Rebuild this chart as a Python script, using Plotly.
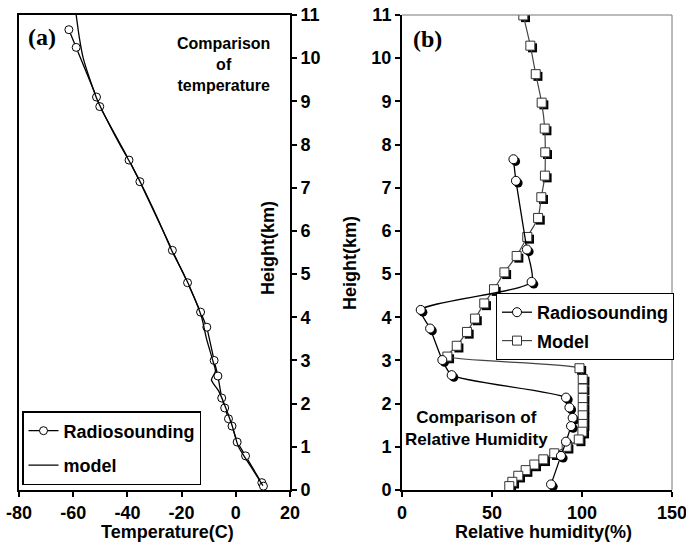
import plotly.graph_objects as go

# ---------------- Panel (a): temperature ----------------
sonde_T = [-61.6, -58.9, -51.4, -50.2, -39.4, -35.4, -23.4, -17.8, -13.0, -10.7, -8.0, -6.6,
           -5.2, -4.1, -2.7, -1.4, 0.5, 3.6, 9.6, 10.2]
sonde_T_h = [10.66, 10.25, 9.10, 8.88, 7.64, 7.14, 5.55, 4.80, 4.12, 3.77, 3.00, 2.64,
             2.13, 1.90, 1.65, 1.48, 1.11, 0.79, 0.17, 0.09]

model_T = [-58.9, -57.8, -56.3, -53.8, -50.9, -47.0, -42.8, -38.3, -34.2, -30.4, -26.8, -23.3,
           -19.2, -15.6, -12.6, -10.8, -8.5, -7.5, -9.0, -6.4, -4.3, -1.4, 1.0, 6.0, 10.0]
model_T_h = [11.0, 10.5, 10.0, 9.5, 9.0, 8.5, 8.0, 7.5, 7.0, 6.5, 6.0, 5.5,
             5.0, 4.5, 4.0, 3.5, 3.0, 2.75, 2.55, 2.3, 2.0, 1.5, 1.0, 0.5, 0.1]

temp_ticks = [-80, -60, -40, -20, 0, 20]
temp_tick_labels = ["-80", "-60", "-40", "-20", "0", "20"]
height_ticks = list(range(0, 12))
height_tick_labels = [str(v) for v in height_ticks]

# ---------------- Panel (b): relative humidity ----------------
sonde_RH = [61.9, 63.3, 69.4, 72.0, 10.4, 15.6, 22.4, 27.6, 91.1, 93.0, 94.8, 93.9, 91.1, 88.3, 82.8]
sonde_RH_h = [7.66, 7.16, 5.57, 4.82, 4.17, 3.74, 3.01, 2.66, 2.14, 1.91, 1.67, 1.48, 1.12, 0.79, 0.13]

model_RH = [67.4, 71.3, 74.3, 77.6, 79.3, 79.6, 79.4, 77.4, 75.6, 69.6, 63.7, 56.9, 51.1, 45.7,
            40.6, 36.1, 30.4, 25.2, 98.6, 100.4, 100.4, 100.4, 100.4, 100.4, 100.4, 100.2, 98.2,
            91.5, 84.6, 78.5, 73.5, 68.7, 64.6, 61.3, 59.6]
model_RH_h = [10.99, 10.29, 9.63, 8.97, 8.37, 7.82, 7.28, 6.78, 6.30, 5.86, 5.42, 5.04, 4.65, 4.32,
              3.97, 3.66, 3.34, 3.09, 2.82, 2.57, 2.35, 2.13, 1.92, 1.73, 1.53, 1.35, 1.17,
              1.00, 0.85, 0.71, 0.59, 0.46, 0.33, 0.19, 0.09]

rh_ticks = [0, 50, 100, 150]
rh_tick_labels = ["0", "50", "100", "150"]

FONT = "Liberation Sans, Arial, sans-serif"
W, H = 686, 546

fig = go.Figure()

# Panel a traces
fig.add_trace(go.Scatter(
    x=sonde_T, y=sonde_T_h, mode="lines+markers", name="Radiosounding",
    line=dict(color="black", width=1.3),
    marker=dict(symbol="circle", size=8, color="white", line=dict(color="black", width=1)),
    xaxis="x", yaxis="y", legend="legend", legendgroup="a1"))
fig.add_trace(go.Scatter(
    x=model_T, y=model_T_h, mode="lines", name="model",
    line=dict(color="black", width=1.3, shape="spline", smoothing=0.6),
    xaxis="x", yaxis="y", legend="legend", legendgroup="a2"))

# Panel b shadows (base axes x2/y2, shifted range)
fig.add_trace(go.Scatter(
    x=model_RH, y=model_RH_h, mode="markers", showlegend=False, hoverinfo="skip",
    marker=dict(symbol="square", size=9, color="black", line=dict(width=0)),
    xaxis="x2", yaxis="y2"))
fig.add_trace(go.Scatter(
    x=sonde_RH, y=sonde_RH_h, mode="markers", showlegend=False, hoverinfo="skip",
    marker=dict(symbol="circle", size=9, color="black", line=dict(width=0)),
    xaxis="x2", yaxis="y2"))

# Panel b main traces (overlay axes x3/y3)
fig.add_trace(go.Scatter(
    x=model_RH, y=model_RH_h, mode="lines+markers", name="Model",
    line=dict(color="#444444", width=1.2, shape="spline", smoothing=0.5),
    marker=dict(symbol="square", size=9, color="white", line=dict(color="#333333", width=1)),
    xaxis="x3", yaxis="y3", legend="legend2", legendgroup="b2"))
fig.add_trace(go.Scatter(
    x=sonde_RH, y=sonde_RH_h, mode="lines+markers", name="Radiosounding",
    line=dict(color="black", width=1.3, shape="spline", smoothing=0.6),
    marker=dict(symbol="circle", size=9, color="white", line=dict(color="black", width=1)),
    xaxis="x3", yaxis="y3", legend="legend2", legendgroup="b1", legendrank=1))

# geometry (pixel positions of plot areas)
ax_a = [19 / W, 290 / W]
ax_b = [402 / W, 672 / W]
ydom = [(H - 490) / H, (H - 15) / H]

dx = 2.2 / 1.8     # shadow offset in data units (x)
dy = 2.2 / 43.2    # shadow offset in data units (y)

def bold(labels):
    return ["<b>%s</b>" % t for t in labels]

axis_common = dict(showgrid=False, zeroline=False, ticks="outside", ticklen=5, tickwidth=2,
                   tickcolor="black", linecolor="black", linewidth=2, showline=True,
                   automargin=False, ticklabeloverflow="allow",
                   tickfont=dict(size=18, family=FONT, color="black"))

fig.update_layout(
    width=W, height=H, margin=dict(l=0, r=0, t=0, b=0, autoexpand=False),
    paper_bgcolor="white", plot_bgcolor="white",
    font=dict(family=FONT, color="black"),
    xaxis=dict(domain=ax_a, range=[-80, 20], tickvals=temp_ticks, ticktext=bold(temp_tick_labels),
               anchor="y", mirror=True, **axis_common),
    yaxis=dict(domain=ydom, range=[0, 11], tickvals=height_ticks, ticktext=bold(height_tick_labels),
               side="right", anchor="x", mirror=True, **axis_common),
    xaxis2=dict(domain=ax_b, range=[0 - dx, 150 - dx], visible=False, anchor="y2", automargin=False),
    yaxis2=dict(domain=ydom, range=[0 + dy, 11 + dy], visible=False, anchor="x2", automargin=False),
    xaxis3=dict(overlaying="x2", range=[0, 150], tickvals=rh_ticks, ticktext=bold(rh_tick_labels),
                anchor="y3", **axis_common),
    yaxis3=dict(overlaying="y2", range=[0, 11], tickvals=height_ticks, ticktext=bold(height_tick_labels),
                anchor="x3", side="left", **axis_common),
    legend=dict(x=22 / W, y=(H - 411) / H, xanchor="left", yanchor="top",
                bordercolor="black", borderwidth=1.5, bgcolor="white",
                font=dict(size=18, family=FONT, color="black", weight="bold"),
                tracegroupgap=8, itemwidth=30),
    legend2=dict(x=496 / W, y=(H - 293) / H, xanchor="left", yanchor="top",
                 bordercolor="black", borderwidth=1, bgcolor="white",
                 font=dict(size=18, family=FONT, color="black", weight="bold"),
                 tracegroupgap=2, itemwidth=30),
    showlegend=True,
)

# panel b top/right frame (thin grey)
fig.add_shape(type="line", xref="paper", yref="paper", x0=ax_b[0], x1=ax_b[1], y0=ydom[1], y1=ydom[1],
              line=dict(color="#777777", width=1))
fig.add_shape(type="line", xref="paper", yref="paper", x0=ax_b[1], x1=ax_b[1], y0=ydom[0], y1=ydom[1],
              line=dict(color="#777777", width=1))

def ann(text, x, y, size, rot=0, family=FONT, weight="bold"):
    fig.add_annotation(text=text, x=x / W, y=(H - y) / H, xref="paper", yref="paper",
                       showarrow=False, textangle=rot, xanchor="center", yanchor="middle",
                       font=dict(size=size, family=family, color="black", weight=weight))

ann("(a)", 42, 37, 24, family="Liberation Serif, Times New Roman, serif")
ann("(b)", 427, 39, 24, family="Liberation Serif, Times New Roman, serif")
ann("Comparison<br>of<br>temperature", 223, 64, 16)
ann("Comparison of<br>Relative Humidity", 476, 428, 17)
ann("Height(km)", 268, 248, 18, rot=-90)
ann("Height(km)", 350, 263, 18, rot=-90)
ann("Temperature(C)", 167, 532, 18)
ann("Relative humidity(%)", 543, 532, 18)

fig.write_html("out.html", config={"displayModeBar": False},
               post_script="document.body.style.margin='0';")
